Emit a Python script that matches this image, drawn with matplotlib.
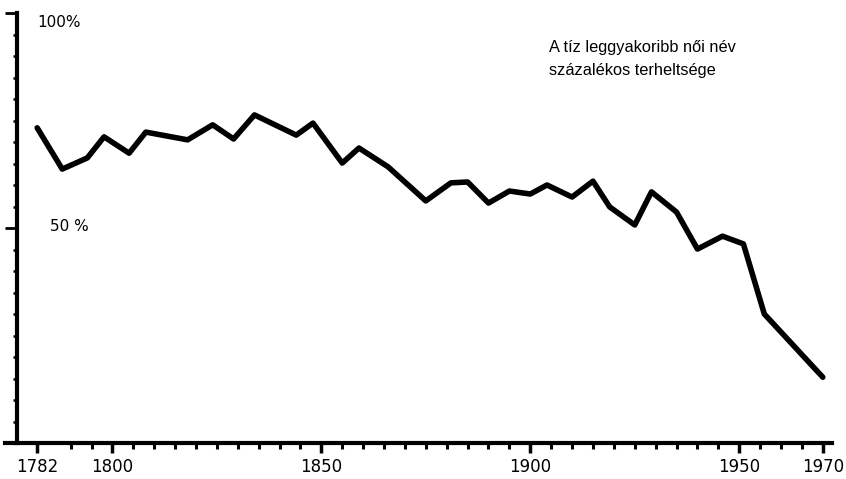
import numpy as np
import matplotlib
matplotlib.use("Agg")
import matplotlib.pyplot as plt

# share of the ten most frequent female names
years = [1782, 1788, 1794, 1798, 1804, 1808, 1818, 1824, 1829, 1834,
         1844, 1848, 1855, 1859, 1866, 1875, 1881, 1885, 1890, 1895,
         1900, 1904, 1910, 1915, 1919, 1925, 1929, 1935, 1940, 1946,
         1951, 1956, 1970]
share = [73.3, 63.7, 66.3, 71.2, 67.4, 72.3, 70.5, 74.0, 70.7, 76.3,
         71.6, 74.4, 65.1, 68.6, 64.2, 56.3, 60.5, 60.7, 55.8, 58.6,
         57.9, 60.0, 57.2, 60.9, 54.9, 50.7, 58.4, 53.7, 45.1, 48.1,
         46.3, 30.0, 15.3]

major_years = [1782, 1800, 1850, 1900, 1950, 1970]
minor_years = [y for y in range(1790, 1970, 5) if y not in major_years]
minor_pct = [p for p in range(5, 100, 5) if p != 50]

title_lines = ["A tíz leggyakoribb női név", "százalékos terheltsége"]

fig = plt.figure(figsize=(8.46, 4.79), dpi=100)
ax = fig.add_axes([5/846, 36/479, 827/846, 430/479])

ax.plot(years, share, color="black", lw=4, solid_joinstyle="round",
        solid_capstyle="round")

ax.set_xlim(1774.3, 1972.2)
ax.set_ylim(0, 100)

for side in ["top", "right"]:
    ax.spines[side].set_visible(False)
ax.spines["left"].set_position(("data", 1777.2))
ax.spines["left"].set_linewidth(3)
ax.spines["bottom"].set_linewidth(3)

ax.set_xticks(major_years)
ax.set_xticklabels([str(y) for y in major_years], fontsize=12)
ax.set_xticks(minor_years, minor=True)
ax.tick_params(axis="x", which="major", direction="out", length=7, width=2.5, pad=4)
ax.tick_params(axis="x", which="minor", direction="out", length=4, width=2.2)

ax.set_yticks([50, 100])
ax.set_yticklabels([])
ax.set_yticks(minor_pct, minor=True)
ax.tick_params(axis="y", which="major", direction="out", length=9, width=2)
ax.tick_params(axis="y", which="minor", direction="out", length=3, width=1.8)

ax.text(1782.0, 97.8, "100%", fontsize=11, va="center", ha="left")
ax.text(1785.0, 50.3, "50 %", fontsize=11, va="center", ha="left")

# two title lines, baselines about 23 px apart
for i, line in enumerate(title_lines):
    fig.text(549/846, 1 - (52 + 23 * i)/479, line, family="Liberation Sans",
             fontsize=11.8, va="baseline", ha="left")

fig.savefig("out.png", dpi=100)
